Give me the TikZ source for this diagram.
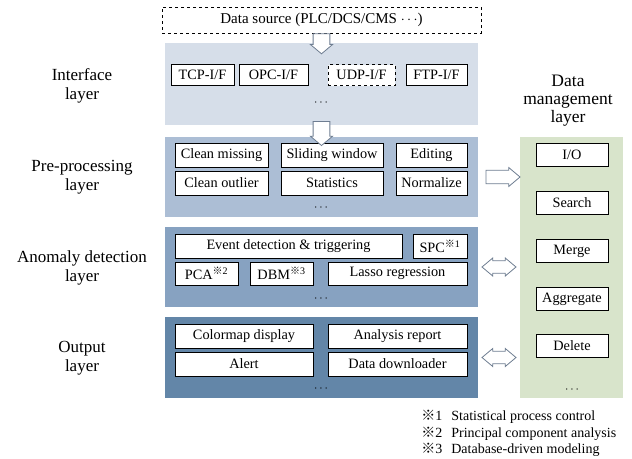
\documentclass[tikz,border=0pt]{standalone}
\usepackage{fontspec}
\setmainfont{Liberation Serif}
\newfontfamily\cjkfont{Noto Sans CJK SC}
\usetikzlibrary{shapes.arrows,calc}

\definecolor{ifcol}{RGB}{214,222,233}
\definecolor{precol}{RGB}{172,190,213}
\definecolor{anocol}{RGB}{135,162,193}
\definecolor{outcol}{RGB}{99,134,168}
\definecolor{dmcol}{RGB}{216,228,203}
\definecolor{arrowgray}{RGB}{110,125,145}

\tikzset{every picture/.style={line width=0.75pt}}
\tikzset{
  band/.style={rectangle, inner sep=0pt, draw=none},
  fnbox/.style={rectangle, draw=black, fill=white, inner sep=0pt, line width=0.8pt,
    font=\fontsize{14.3}{15}\selectfont},
  layerlabel/.style={align=center, inner sep=0pt, font=\fontsize{17}{19}\selectfont},
  moredots/.style={inner sep=0pt, font=\fontsize{12}{14}\selectfont},
  notetext/.style={anchor=west, inner sep=0pt, font=\fontsize{14}{15}\selectfont},
  downarrow/.style={single arrow, draw=arrowgray, fill=white, line width=0.8pt,
    inner xsep=0pt, inner ysep=6pt, minimum width=22pt, single arrow head extend=2pt,
    single arrow tip angle=100, rotate=-90},
  rightarrow/.style={single arrow, draw=arrowgray, fill=white, line width=0.8pt,
    inner xsep=0pt, inner ysep=4.5pt, minimum width=19pt, minimum height=34pt,
    single arrow head extend=2pt, single arrow tip angle=80},
  botharrow/.style={double arrow, draw=arrowgray, fill=white, line width=0.8pt,
    inner xsep=0pt, inner ysep=4pt, minimum width=18pt, minimum height=34pt,
    double arrow head extend=2pt, double arrow tip angle=80}
}
\newcommand{\refmark}{{\cjkfont ※}}

\begin{document}
\begin{tikzpicture}[x=1pt,y=1pt,yscale=-1]
	\useasboundingbox (0,0) rectangle (632,458);

	% Layer bands
	\node [band, fill=ifcol, minimum width=313pt, minimum height=82pt] (iface) at (321.5,84) {};
	\node [band, fill=precol, minimum width=313pt, minimum height=80pt] (pre) at (321.5,177) {};
	\node [band, fill=anocol, minimum width=313pt, minimum height=80pt] (anom) at (321.5,267) {};
	\node [band, fill=outcol, minimum width=313pt, minimum height=81pt] (outl) at (321.5,357.5) {};
	\node [band, fill=dmcol, minimum width=103pt, minimum height=261pt] (dm) at (571.5,267.5) {};

	% Text Node
	\node [fnbox, dashed, minimum width=319pt, minimum height=26pt, font=\fontsize{15}{16}\selectfont] (src) at (321.5,20) {Data source (PLC/DCS/CMS $\cdots$)};

	% Layer labels
	\node [layerlabel] (lbif) at (82,86) {Interface\\layer};
	\node [layerlabel] (lbpre) at (82,177.5) {Pre-processing\\layer};
	\node [layerlabel] (lbano) at (82,268) {Anomaly detection\\layer};
	\node [layerlabel] (lbout) at (82,358) {Output\\layer};
	\node [layerlabel, font=\fontsize{17.5}{18}\selectfont] (lbdm) at (568,101) {Data\\management\\layer};

	% Interface layer
	\node [fnbox, minimum width=63pt, minimum height=21pt] (tcp) at (202.5,75) {TCP-I/F};
	\node [fnbox, minimum width=69pt, minimum height=21pt] (opc) at (273.5,75) {OPC-I/F};
	\node [fnbox, dashed, minimum width=67pt, minimum height=21pt] (udp) at (361.5,75) {UDP-I/F};
	\node [fnbox, minimum width=61pt, minimum height=21pt] (ftp) at (436.5,75) {FTP-I/F};
	\node [moredots] (ifdots) at (321,103) {$\cdots$};

	% Pre-processing layer
	\node [fnbox, minimum width=93pt, minimum height=24pt] (cmiss) at (221.5,155.5) {Clean missing};
	\node [fnbox, minimum width=102pt, minimum height=24pt] (slide) at (332,155.5) {Sliding window};
	\node [fnbox, minimum width=71pt, minimum height=24pt] (edit) at (431.5,155.5) {Editing};
	\node [fnbox, minimum width=93pt, minimum height=24pt] (cout) at (221.5,183) {Clean outlier};
	\node [fnbox, minimum width=102pt, minimum height=24pt] (stat) at (332,183) {Statistics};
	\node [fnbox, minimum width=71pt, minimum height=24pt] (norm) at (431.5,183) {Normalize};
	\node [moredots] (predots) at (321,208) {$\cdots$};

	% Anomaly detection layer
	\node [fnbox, minimum width=227pt, minimum height=24pt] (event) at (288.5,246) {Event detection \& triggering};
	\node [fnbox, minimum width=54pt, minimum height=24pt] (spc) at (440,246) {SPC\textsuperscript{\refmark1}};
	\node [fnbox, minimum width=63pt, minimum height=23pt] (pca) at (206.5,273.5) {PCA\textsuperscript{\refmark2}};
	\node [fnbox, minimum width=63pt, minimum height=23pt] (dbm) at (281.5,273.5) {DBM\textsuperscript{\refmark3}};
	\node [fnbox, minimum width=139pt, minimum height=23pt] (lasso) at (397.5,273.5) {Lasso regression};
	\node [moredots] (anodots) at (321,299) {$\cdots$};

	% Output layer
	\node [fnbox, minimum width=138pt, minimum height=24pt] (cmap) at (244,336) {Colormap display};
	\node [fnbox, minimum width=139pt, minimum height=24pt] (report) at (397.5,336) {Analysis report};
	\node [fnbox, minimum width=138pt, minimum height=24pt] (alert) at (244,364) {Alert};
	\node [fnbox, minimum width=139pt, minimum height=24pt] (dload) at (397.5,364) {Data downloader};
	\node [moredots] (outdots) at (321,389) {$\cdots$};

	% Data management layer
	\node [fnbox, minimum width=72pt, minimum height=23pt] (io) at (572,155) {I/O};
	\node [fnbox, minimum width=72pt, minimum height=23pt] (search) at (572,203) {Search};
	\node [fnbox, minimum width=72pt, minimum height=23pt] (merge) at (572,251) {Merge};
	\node [fnbox, minimum width=72pt, minimum height=23pt] (aggr) at (572,299) {Aggregate};
	\node [fnbox, minimum width=72pt, minimum height=23pt] (del) at (572,346) {Delete};
	\node [moredots] (dmdots) at (572,390) {$\cdots$};

	% Block arrows
	\node [downarrow, minimum height=20pt, anchor=tail] (arr1) at (src.south) {};
	\node [downarrow, minimum height=24pt] (arr2) at (321.5,130) {};
	\node [rightarrow] (arr3) at ($(pre.east)!0.5!(dm.west |- pre.east)$) {};
	\node [botharrow] (arr4) at ($(anom.east)!0.5!(dm.west |- anom.east)$) {};
	\node [botharrow] (arr5) at ($(outl.east)!0.5!(dm.west |- outl.east)$) {};

	% Notes
	\node [notetext] (note1) at (421,417) {\refmark1\hspace{9pt}Statistical process control};
	\node [notetext] (note2) at (421,433.5) {\refmark2\hspace{9pt}Principal component analysis};
	\node [notetext] (note3) at (421,450) {\refmark3\hspace{9pt}Database-driven modeling};

\end{tikzpicture}
\end{document}
